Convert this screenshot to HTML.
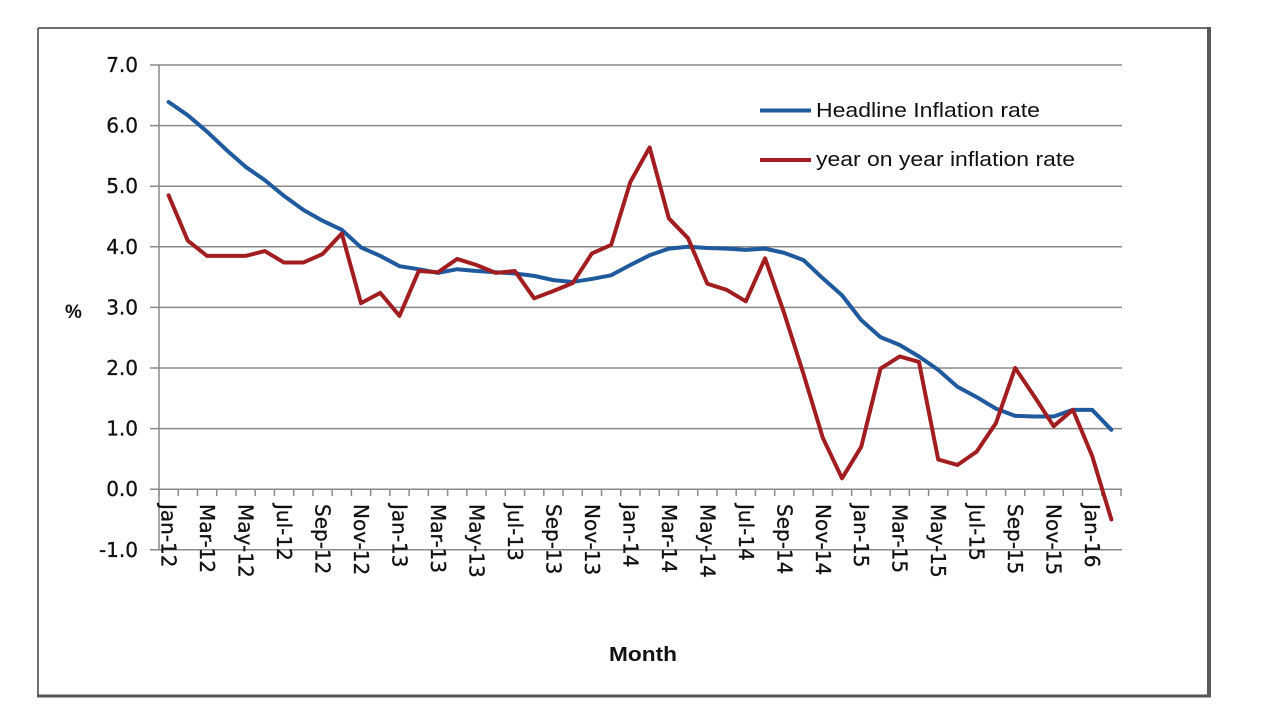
<!DOCTYPE html>
<html>
<head>
<meta charset="utf-8">
<style>
html,body{margin:0;padding:0;background:#fff;}
svg{display:block;}
</style>
</head>
<body>
<svg width="1280" height="720" viewBox="0 0 1280 720" xmlns="http://www.w3.org/2000/svg">
<rect x="0" y="0" width="1280" height="720" fill="#fff"/>
<!-- frame -->
<line x1="38" y1="28" x2="1209" y2="28" stroke="#707070" stroke-width="2"/>
<line x1="38" y1="28" x2="38" y2="696" stroke="#707070" stroke-width="2"/>
<line x1="1209" y1="27" x2="1209" y2="697" stroke="#585858" stroke-width="4"/>
<line x1="37" y1="696" x2="1211" y2="696" stroke="#585858" stroke-width="3"/>

<!-- gridlines -->
<g stroke="#8a8a8a" stroke-width="1.5">
<line x1="150" y1="65" x2="1122" y2="65"/>
<line x1="150" y1="125.6" x2="1122" y2="125.6"/>
<line x1="150" y1="186.2" x2="1122" y2="186.2"/>
<line x1="150" y1="246.8" x2="1122" y2="246.8"/>
<line x1="150" y1="307.4" x2="1122" y2="307.4"/>
<line x1="150" y1="368" x2="1122" y2="368"/>
<line x1="150" y1="428.6" x2="1122" y2="428.6"/>
<line x1="150" y1="489.2" x2="1122" y2="489.2"/>
<line x1="150" y1="549.8" x2="1122" y2="549.8"/>
<line x1="159" y1="65" x2="159" y2="549.8"/>
</g>
<!-- x ticks -->
<g stroke="#8a8a8a" stroke-width="1.5">
<path d="M159 489V496 M178.24 489V496 M197.48 489V496 M216.72 489V496 M235.96 489V496 M255.2 489V496 M274.44 489V496 M293.68 489V496 M312.92 489V496 M332.16 489V496 M351.4 489V496 M370.64 489V496 M389.88 489V496 M409.12 489V496 M428.36 489V496 M447.6 489V496 M466.84 489V496 M486.08 489V496 M505.32 489V496 M524.56 489V496 M543.8 489V496 M563.04 489V496 M582.28 489V496 M601.52 489V496 M620.76 489V496 M640 489V496 M659.24 489V496 M678.48 489V496 M697.72 489V496 M716.96 489V496 M736.2 489V496 M755.44 489V496 M774.68 489V496 M793.92 489V496 M813.16 489V496 M832.4 489V496 M851.64 489V496 M870.88 489V496 M890.12 489V496 M909.36 489V496 M928.6 489V496 M947.84 489V496 M967.08 489V496 M986.32 489V496 M1005.56 489V496 M1024.8 489V496 M1044.04 489V496 M1063.28 489V496 M1082.52 489V496 M1101.76 489V496 M1121 489V496"/>
</g>

<!-- y labels -->
<g font-family="DejaVu Sans, sans-serif" font-size="20" fill="#111" stroke="#111" stroke-width="0.3" text-anchor="end">
<text x="138" y="72">7.0</text>
<text x="138" y="132.6">6.0</text>
<text x="138" y="193.2">5.0</text>
<text x="138" y="253.8">4.0</text>
<text x="138" y="314.4">3.0</text>
<text x="138" y="375">2.0</text>
<text x="138" y="435.6">1.0</text>
<text x="138" y="496.2">0.0</text>
<text x="138" y="556.8">-1.0</text>
</g>
<text x="65" y="318" font-family="Liberation Sans, sans-serif" font-weight="bold" font-size="19" fill="#111">%</text>

<!-- x labels -->
<g font-family="DejaVu Sans, sans-serif" font-size="20" fill="#111" stroke="#111" stroke-width="0.3">
<text transform="translate(168.6,504) rotate(90)" y="7">Jan-12</text>
<text transform="translate(207.1,504) rotate(90)" y="7">Mar-12</text>
<text transform="translate(245.6,504) rotate(90)" y="7">May-12</text>
<text transform="translate(284.0,504) rotate(90)" y="7">Jul-12</text>
<text transform="translate(322.5,504) rotate(90)" y="7">Sep-12</text>
<text transform="translate(361.0,504) rotate(90)" y="7">Nov-12</text>
<text transform="translate(399.5,504) rotate(90)" y="7">Jan-13</text>
<text transform="translate(438.0,504) rotate(90)" y="7">Mar-13</text>
<text transform="translate(476.4,504) rotate(90)" y="7">May-13</text>
<text transform="translate(514.9,504) rotate(90)" y="7">Jul-13</text>
<text transform="translate(553.4,504) rotate(90)" y="7">Sep-13</text>
<text transform="translate(591.9,504) rotate(90)" y="7">Nov-13</text>
<text transform="translate(630.4,504) rotate(90)" y="7">Jan-14</text>
<text transform="translate(668.8,504) rotate(90)" y="7">Mar-14</text>
<text transform="translate(707.3,504) rotate(90)" y="7">May-14</text>
<text transform="translate(745.8,504) rotate(90)" y="7">Jul-14</text>
<text transform="translate(784.3,504) rotate(90)" y="7">Sep-14</text>
<text transform="translate(822.8,504) rotate(90)" y="7">Nov-14</text>
<text transform="translate(861.2,504) rotate(90)" y="7">Jan-15</text>
<text transform="translate(899.7,504) rotate(90)" y="7">Mar-15</text>
<text transform="translate(938.2,504) rotate(90)" y="7">May-15</text>
<text transform="translate(976.7,504) rotate(90)" y="7">Jul-15</text>
<text transform="translate(1015.2,504) rotate(90)" y="7">Sep-15</text>
<text transform="translate(1053.6,504) rotate(90)" y="7">Nov-15</text>
<text transform="translate(1092.1,504) rotate(90)" y="7">Jan-16</text>
</g>

<text x="609" y="661" font-family="Liberation Sans, sans-serif" font-weight="bold" font-size="20" fill="#111" textLength="68" lengthAdjust="spacingAndGlyphs">Month</text>

<!-- series -->
<g transform="matrix(19.24 0 0 -60.6 168.6 489.2)" fill="none" stroke-linejoin="round" stroke-linecap="round">
<polyline vector-effect="non-scaling-stroke" stroke="#1f5a9e" stroke-width="4" points="0,6.39 1,6.17 2,5.90 3,5.60 4,5.32 5,5.10 6,4.84 7,4.61 8,4.43 9,4.28 10,3.99 11,3.85 12,3.68 13,3.63 14,3.57 15,3.63 16,3.60 17,3.58 18,3.56 19,3.52 20,3.45 21,3.42 22,3.47 23,3.53 24,3.70 25,3.86 26,3.97 27,4.00 28,3.98 29,3.97 30,3.95 31,3.97 32,3.90 33,3.78 34,3.48 35,3.20 36,2.79 37,2.51 38,2.38 39,2.19 40,1.97 41,1.69 42,1.52 43,1.33 44,1.21 45,1.20 46,1.20 47,1.31 48,1.31 49,0.98"/>
<polyline vector-effect="non-scaling-stroke" stroke="#a21d20" stroke-width="4" points="0,4.85 1,4.10 2,3.85 3,3.85 4,3.85 5,3.93 6,3.74 7,3.74 8,3.88 9,4.22 10,3.07 11,3.24 12,2.86 13,3.60 14,3.58 15,3.80 16,3.70 17,3.57 18,3.60 19,3.15 20,3.27 21,3.40 22,3.89 23,4.03 24,5.07 25,5.64 26,4.47 27,4.14 28,3.39 29,3.29 30,3.10 31,3.81 32,2.90 33,1.90 34,0.85 35,0.18 36,0.70 37,1.99 38,2.19 39,2.10 40,0.49 41,0.40 42,0.62 43,1.09 44,2.00 45,1.53 46,1.04 47,1.31 48,0.55 49,-0.50"/>
</g>

<!-- legend -->
<line x1="760" y1="110.5" x2="811" y2="110.5" stroke="#1f5a9e" stroke-width="4"/>
<line x1="760" y1="160" x2="811" y2="160" stroke="#a21d20" stroke-width="4"/>
<g font-family="Liberation Sans, sans-serif" font-size="20" fill="#111">
<text x="816" y="117" textLength="224" lengthAdjust="spacingAndGlyphs">Headline Inflation rate</text>
<text x="816" y="166" textLength="259" lengthAdjust="spacingAndGlyphs">year on year inflation rate</text>
</g>
</svg>
</body>
</html>
